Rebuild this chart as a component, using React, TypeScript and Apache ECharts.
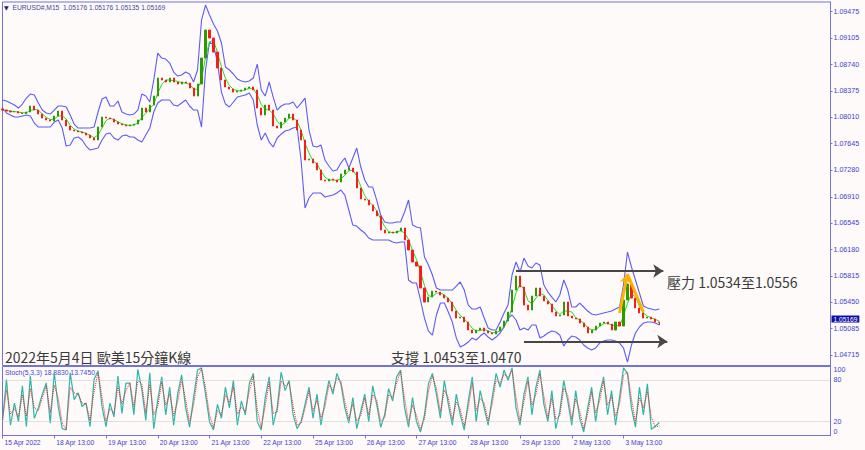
import React, { useEffect, useRef } from 'react';
import * as echarts from 'echarts';

// ---------- data ----------
const xTickLabels = [
  '15 Apr 2022', '18 Apr 13:00', '19 Apr 13:00', '20 Apr 13:00', '21 Apr 13:00',
  '22 Apr 13:00', '25 Apr 13:00', '26 Apr 13:00', '27 Apr 13:00', '28 Apr 13:00',
  '29 Apr 13:00', '2 May 13:00', '3 May 13:00',
];
const priceTicks = [
  1.09475, 1.09105, 1.0874, 1.08375, 1.0801, 1.07645, 1.0728,
  1.0691, 1.06545, 1.0618, 1.05815, 1.0545, 1.05085, 1.04715,
];
const stochTicks = [0, 20, 80, 100];

const firstOpen = 1.08125;
const lastQuote = [1.05176, 1.05176, 1.05135, 1.05169]; // O H L C of the last bar

const close = [
  1.08111, 1.08097, 1.08084, 1.08090, 1.08070, 1.08062, 1.08084, 1.08167, 1.08111, 1.08056,
  1.08000, 1.07973, 1.07959, 1.08028, 1.08097, 1.07973, 1.07890, 1.07834, 1.07821, 1.07807,
  1.07793, 1.07765, 1.07724, 1.07696, 1.07876, 1.08014, 1.08000, 1.07987, 1.07945, 1.07917,
  1.07904, 1.07890, 1.07904, 1.07917, 1.07973, 1.08139, 1.08084, 1.08180, 1.08305, 1.08554,
  1.08527, 1.08499, 1.08554, 1.08499, 1.08471, 1.08499, 1.08485, 1.08416, 1.08305, 1.08471,
  1.08831, 1.09219, 1.09108, 1.08914, 1.08693, 1.08527, 1.08430, 1.08402, 1.08360, 1.08374,
  1.08388, 1.08416, 1.08430, 1.08388, 1.08139, 1.08042, 1.08180, 1.08111, 1.07890, 1.07862,
  1.07945, 1.08000, 1.08056, 1.07973, 1.07834, 1.07696, 1.07419, 1.07433, 1.07377, 1.07281,
  1.07142, 1.07128, 1.07156, 1.07142, 1.07114, 1.07225, 1.07281, 1.07308, 1.07253, 1.07031,
  1.06879, 1.06865, 1.06796, 1.06713, 1.06644, 1.06450, 1.06408, 1.06422, 1.06408, 1.06436,
  1.06478, 1.06311, 1.06173, 1.06007, 1.05951, 1.05647, 1.05453, 1.05522, 1.05605, 1.05591,
  1.05550, 1.05508, 1.05453, 1.05328, 1.05231, 1.05245, 1.05176, 1.05065, 1.05024, 1.05065,
  1.05093, 1.05051, 1.05024, 1.05010, 1.05051, 1.05107, 1.05190, 1.05314, 1.05619, 1.05813,
  1.05661, 1.05411, 1.05342, 1.05536, 1.05647, 1.05536, 1.05467, 1.05425, 1.05314, 1.05259,
  1.05273, 1.05453, 1.05259, 1.05231, 1.05218, 1.05162, 1.05107, 1.05024, 1.05065, 1.05121,
  1.05162, 1.05176, 1.05148, 1.05065, 1.05176, 1.05121, 1.05481, 1.05702, 1.05508, 1.05370,
  1.05301, 1.05231, 1.05245, 1.05218, 1.05176, 1.05169,
];

const upperBand = [
  1.08250, 1.08236, 1.08208, 1.08180, 1.08139, 1.08194, 1.08277, 1.08333, 1.08319, 1.08208,
  1.08111, 1.08070, 1.08056, 1.08111, 1.08167, 1.08167, 1.08153, 1.08042, 1.07917, 1.07862,
  1.07862, 1.07862, 1.07862, 1.07876, 1.08084, 1.08264, 1.08291, 1.08167, 1.08167, 1.08236,
  1.08084, 1.08056, 1.08042, 1.08056, 1.08111, 1.08333, 1.08305, 1.08222, 1.08527, 1.08900,
  1.08831, 1.08817, 1.08762, 1.08637, 1.08582, 1.08596, 1.08637, 1.08610, 1.08499, 1.08665,
  1.09357, 1.09565, 1.09427, 1.09302, 1.09205, 1.09039, 1.08707, 1.08665, 1.08610, 1.08540,
  1.08513, 1.08499, 1.08513, 1.08554, 1.08748, 1.08388, 1.08305, 1.08499, 1.08291, 1.08111,
  1.08167, 1.08194, 1.08194, 1.08222, 1.08139, 1.08208, 1.08277, 1.07834, 1.07613, 1.07599,
  1.07627, 1.07419, 1.07336, 1.07267, 1.07281, 1.07377, 1.07447, 1.07308, 1.07447, 1.07585,
  1.07322, 1.07142, 1.07045, 1.07045, 1.06865, 1.06658, 1.06561, 1.06547, 1.06547, 1.06561,
  1.06561, 1.06699, 1.06865, 1.06519, 1.06491, 1.06478, 1.06076, 1.05965, 1.05827, 1.05647,
  1.05619, 1.05619, 1.05619, 1.05619, 1.05674, 1.05730, 1.05619, 1.05411, 1.05356, 1.05356,
  1.05384, 1.05231, 1.05093, 1.05065, 1.05065, 1.05176, 1.05301, 1.05411, 1.05827, 1.06007,
  1.05868, 1.06062, 1.05951, 1.05924, 1.05993, 1.05965, 1.05688, 1.05591, 1.05522, 1.05453,
  1.05550, 1.05758, 1.05619, 1.05384, 1.05384, 1.05439, 1.05384, 1.05328, 1.05287, 1.05273,
  1.05287, 1.05301, 1.05314, 1.05328, 1.05356, 1.05384, 1.05688, 1.06145, 1.05938, 1.05758,
  1.05578, 1.05398, 1.05370, 1.05356, 1.05342, 1.05356,
];

const lowerBand = [
  1.08139, 1.08070, 1.08042, 1.08014, 1.08014, 1.08028, 1.08042, 1.08028, 1.07931, 1.07876,
  1.07876, 1.07876, 1.07876, 1.07945, 1.07973, 1.07862, 1.07613, 1.07627, 1.07724, 1.07737,
  1.07696, 1.07613, 1.07557, 1.07571, 1.07585, 1.07696, 1.07779, 1.07793, 1.07724, 1.07696,
  1.07751, 1.07765, 1.07737, 1.07737, 1.07696, 1.07668, 1.07765, 1.07862, 1.08084, 1.08208,
  1.08250, 1.08250, 1.08250, 1.08180, 1.08167, 1.08208, 1.08250, 1.08167, 1.08111, 1.08111,
  1.07876, 1.08665, 1.09053, 1.09011, 1.08776, 1.08360, 1.08194, 1.08153, 1.08222, 1.08291,
  1.08305, 1.08319, 1.08347, 1.08250, 1.07904, 1.07696, 1.07793, 1.07668, 1.07599, 1.07724,
  1.07779, 1.07821, 1.07834, 1.07862, 1.07876, 1.07419, 1.06754, 1.06893, 1.06962, 1.06962,
  1.06962, 1.06907, 1.06921, 1.06934, 1.06962, 1.07004, 1.06934, 1.06727, 1.06519, 1.06505,
  1.06450, 1.06408, 1.06339, 1.06311, 1.06311, 1.06311, 1.06311, 1.06311, 1.06284, 1.06270,
  1.06284, 1.06284, 1.05758, 1.05716, 1.05716, 1.05481, 1.05231, 1.05051, 1.04996, 1.05273,
  1.05439, 1.05439, 1.05314, 1.05176, 1.04955, 1.04830, 1.04858, 1.04899, 1.04955, 1.04927,
  1.04982, 1.05024, 1.04968, 1.04927, 1.04968, 1.05024, 1.05107, 1.05231, 1.05273, 1.05204,
  1.05065, 1.05093, 1.05065, 1.05135, 1.05135, 1.04955, 1.04982, 1.05024, 1.05051, 1.05038,
  1.04996, 1.04844, 1.04927, 1.04982, 1.04968, 1.04927, 1.04858, 1.04816, 1.04788, 1.04816,
  1.04885, 1.04913, 1.04927, 1.04927, 1.04913, 1.04885, 1.04816, 1.04622, 1.04858, 1.05024,
  1.05107, 1.05162, 1.05176, 1.05176, 1.05162, 1.05135,
];

const stochK = [
  22, 81, 15, 47, 20, 72, 13, 86, 25, 40,
  60, 76, 18, 91, 42, 10, 8, 91, 52, 62,
  42, 47, 13, 81, 94, 42, 13, 47, 27, 86,
  32, 76, 76, 30, 96, 67, 22, 91, 10, 52,
  85, 30, 70, 15, 60, 88, 40, 12, 55, 95,
  98, 60, 20, 8, 45, 25, 70, 40, 80, 15,
  50, 30, 75, 90, 20, 8, 55, 85, 15, 40,
  92, 65, 80, 30, 10, 20, 45, 70, 25, 60,
  15, 50, 80, 60, 90, 75, 40, 18, 55, 10,
  35, 60, 20, 72, 45, 12, 30, 68, 50, 85,
  95, 40, 12, 55, 20, 5, 30, 75, 90, 60,
  25, 80, 45, 15, 60, 30, 8, 50, 85, 20,
  65, 40, 15, 55, 90, 70, 95, 80, 98, 40,
  15, 60, 85, 30, 70, 95, 45, 20, 65, 10,
  35, 80, 50, 15, 65, 25, 5, 40, 70, 20,
  60, 85, 30, 65, 15, 55, 98, 90, 40, 12,
  70, 30, 75, 9, 13.352, 18.883,
];

const stochD = [
  22, 66, 31, 39, 27, 59, 28, 68, 40, 36,
  55, 72, 33, 73, 54, 18, 9, 70, 62, 60,
  47, 46, 22, 64, 91, 55, 20, 39, 32, 71,
  46, 65, 76, 42, 80, 74, 33, 74, 30, 42,
  77, 44, 60, 29, 49, 81, 52, 19, 44, 85,
  97, 70, 30, 11, 36, 30, 59, 48, 70, 31,
  41, 35, 64, 86, 38, 11, 43, 77, 32, 34,
  79, 72, 76, 43, 15, 18, 39, 64, 36, 51,
  26, 41, 73, 65, 83, 79, 49, 24, 46, 21,
  29, 54, 30, 59, 52, 20, 26, 59, 55, 76,
  93, 54, 19, 44, 29, 9, 24, 64, 86, 68,
  34, 66, 54, 23, 49, 38, 14, 40, 76, 36,
  54, 47, 21, 45, 81, 75, 89, 84, 94, 55,
  21, 49, 79, 44, 60, 89, 57, 26, 54, 24,
  29, 69, 58, 24, 53, 35, 10, 31, 63, 33,
  50, 79, 44, 56, 28, 45, 87, 92, 53, 19,
  55, 40, 64, 26, 12.6, 13.745,
];

// annotation anchors: [bar index, price]
const resistanceArrow = [[129, 1.05882], [166, 1.05882]];
const supportArrow = [[131, 1.04906], [166.5, 1.04906]];
const breakoutPath = [[155, 1.05301], [157.2, 1.05841], [161.3, 1.05314]];

// ---------- layout / style ----------
const N_CATS = 209;
const LABEL_STEP = 13;
const Y_MIN = 1.04574;
const Y_MAX = 1.09607;
const BG = '#fdfaf9';
const AXIS = '#7373dc';
const TXT = '#3f3fcf';
const BAND = '#5c5cf6';
const SANS = '"Liberation Sans", Arial, sans-serif';
const CJK = '"Noto Sans CJK TC", "Noto Sans CJK SC", sans-serif';

function sma(arr: number[], n: number): number[] {
  return arr.map((_, i) => {
    const s = Math.max(0, i - n + 1);
    let t = 0;
    for (let j = s; j <= i; j++) t += arr[j];
    return t / (i - s + 1);
  });
}

export default function App() {
  const ref = useRef<HTMLDivElement>(null);

  useEffect(() => {
    if (!ref.current) return;
    const chart = echarts.init(ref.current, null, { renderer: 'svg' });

    const cats = Array.from({ length: N_CATS }, (_, i) => 'b' + i);
    const candles = close.map((c, i) => {
      if (i === close.length - 1) {
        return [lastQuote[0], lastQuote[3], lastQuote[2], lastQuote[1]];
      }
      const o = i === 0 ? firstOpen : close[i - 1];
      return [o, c, Math.min(o, c), Math.max(o, c)];
    });
    const ma = sma(close, 3);
    const lastK = stochK[stochK.length - 1];
    const lastD = stochD[stochD.length - 1];

    const showTick = (idx: number) =>
      idx % LABEL_STEP === 0 && idx / LABEL_STEP < xTickLabels.length;

    const seg = (a: number[], b: number[], arrow: boolean, size: number) => [
      { coord: a, symbol: 'none' },
      { coord: b, symbol: arrow ? 'arrow' : 'none', symbolSize: size },
    ];

    const annot = (data: any[], color: string, width: number) => ({
      type: 'line',
      xAxisIndex: 0,
      yAxisIndex: 0,
      data: [],
      silent: true,
      z: 10,
      markLine: {
        silent: true,
        animation: false,
        label: { show: false },
        lineStyle: { color, width, type: 'solid', opacity: 1 },
        emphasis: { disabled: true },
        data,
      },
    });

    const option: any = {
      animation: false,
      backgroundColor: BG,
      textStyle: { fontFamily: SANS },
      grid: [
        { left: 2.5, right: 34.5, top: 2, height: 363.5, show: true, borderColor: AXIS, borderWidth: 1, outerBoundsMode: 'none', containLabel: false },
        { left: 2.5, right: 34.5, top: 366.5, height: 69, show: true, borderColor: AXIS, borderWidth: 1, outerBoundsMode: 'none', containLabel: false },
      ],
      xAxis: [
        {
          type: 'category', gridIndex: 0, data: cats, boundaryGap: false,
          axisLine: { show: false }, axisTick: { show: false }, axisLabel: { show: false }, splitLine: { show: false },
        },
        {
          type: 'category', gridIndex: 1, data: cats, boundaryGap: false,
          axisLine: { show: true, lineStyle: { color: AXIS } },
          axisTick: { show: true, length: 3, interval: (i: number) => showTick(i), lineStyle: { color: AXIS } },
          axisLabel: {
            show: true,
            interval: (i: number) => showTick(i),
            formatter: (_v: string, i: number) => xTickLabels[i / LABEL_STEP] ?? '',
            align: 'left', margin: 3, padding: [0, 0, 0, 2],
            fontSize: 6.7, color: TXT, hideOverlap: false,
          },
          splitLine: { show: false },
        },
      ],
      yAxis: [
        {
          type: 'value', gridIndex: 0, position: 'right', min: Y_MIN, max: Y_MAX,
          splitLine: { show: false },
          axisLine: { show: true, lineStyle: { color: AXIS } },
          axisTick: { show: true, length: 2, customValues: priceTicks, lineStyle: { color: AXIS } },
          axisLabel: {
            customValues: priceTicks, formatter: (v: number) => v.toFixed(5),
            fontSize: 7.1, color: TXT, margin: 3, showMinLabel: true, showMaxLabel: true,
          },
        },
        {
          type: 'value', gridIndex: 1, position: 'right', min: 0, max: 100,
          splitLine: { show: false },
          axisLine: { show: true, lineStyle: { color: AXIS } },
          axisTick: { show: false },
          axisLabel: {
            customValues: stochTicks, fontSize: 7.1, color: TXT, margin: 3,
            verticalAlignMaxLabel: 'top', verticalAlignMinLabel: 'bottom',
            showMinLabel: true, showMaxLabel: true,
          },
        },
        {
          // current-price tag on the price scale
          type: 'value', gridIndex: 0, position: 'right', min: Y_MIN, max: Y_MAX,
          splitLine: { show: false }, axisLine: { show: false }, axisTick: { show: false },
          axisLabel: {
            customValues: [lastQuote[3]], formatter: (v: number) => v.toFixed(5),
            fontSize: 6.6, color: '#ffffff', backgroundColor: '#0c0ca8',
            padding: [0, 2, 0, 2], margin: 1, verticalAlign: 'bottom',
            showMinLabel: true, showMaxLabel: true,
          },
        },
      ],
      series: [
        {
          name: 'upper', type: 'line', xAxisIndex: 0, yAxisIndex: 0, data: upperBand,
          symbol: 'none', silent: true, z: 2, lineStyle: { color: BAND, width: 1.1 },
        },
        {
          name: 'lower', type: 'line', xAxisIndex: 0, yAxisIndex: 0, data: lowerBand,
          symbol: 'none', silent: true, z: 2, lineStyle: { color: BAND, width: 1.1 },
        },
        {
          name: 'ma', type: 'line', xAxisIndex: 0, yAxisIndex: 0, data: ma,
          symbol: 'none', silent: true, z: 3, lineStyle: { color: '#1ee01e', width: 1 },
        },
        {
          name: 'EURUSD', type: 'candlestick', xAxisIndex: 0, yAxisIndex: 0, data: candles,
          barWidth: 1.6, silent: true, z: 4,
          itemStyle: { color: '#2f9a00', color0: '#ff1a1a', borderColor: '#2f9a00', borderColor0: '#ff1a1a', borderWidth: 1 },
        },
        annot([seg(resistanceArrow[0], resistanceArrow[1], true, 10)], '#474747', 2.2),
        annot([seg(supportArrow[0], supportArrow[1], true, 10)], '#474747', 2.2),
        annot([
          seg(breakoutPath[0], breakoutPath[1], true, 9),
          seg(breakoutPath[1], breakoutPath[2], false, 0),
        ], '#ffb300', 3),
        {
          name: 'K', type: 'line', xAxisIndex: 1, yAxisIndex: 1, data: stochK,
          symbol: 'none', silent: true, z: 3, lineStyle: { color: '#2bb7aa', width: 1.2 },
          markLine: {
            silent: true, animation: false, symbol: ['none', 'none'],
            label: { show: false },
            lineStyle: { color: '#c4c4c4', type: 'dotted', width: 1 },
            data: [{ yAxis: 20 }, { yAxis: 80 }],
          },
        },
        {
          name: 'D', type: 'line', xAxisIndex: 1, yAxisIndex: 1, data: stochD,
          symbol: 'none', silent: true, z: 4, lineStyle: { color: '#ff2020', width: 1, type: 'dotted' },
        },
      ],
      graphic: [
        {
          type: 'text', x: 4, y: 7.5, silent: true,
          style: { text: '▼', fill: '#1c1c7a', fontSize: 6, fontFamily: '"DejaVu Sans"', verticalAlign: 'middle' },
        },
        {
          type: 'text', x: 12.5, y: 7.5, silent: true,
          style: {
            text: 'EURUSD#,M15  ' + lastQuote.map((v) => v.toFixed(5)).join(' '),
            fill: '#46469e', fontSize: 6.7, fontFamily: SANS, verticalAlign: 'middle',
          },
        },
        {
          type: 'text', x: 5, y: 372.7, silent: true,
          style: {
            text: `Stoch(5,3,3) ${lastK.toFixed(4)} ${lastD.toFixed(4)}`,
            fill: '#4a4ad2', fontSize: 6.8, fontFamily: SANS, verticalAlign: 'middle',
          },
        },
        {
          type: 'text', x: 5, y: 356.5, silent: true,
          style: { text: '2022年5月4日 歐美15分鐘K線', fill: '#3a3a3a', fontSize: 14, fontFamily: CJK, verticalAlign: 'middle' },
        },
        {
          type: 'text', x: 391, y: 356.5, silent: true,
          style: { text: '支撐 1.0453至1.0470', fill: '#3a3a3a', fontSize: 14, fontFamily: CJK, verticalAlign: 'middle' },
        },
        {
          type: 'text', x: 667, y: 282, silent: true,
          style: { text: '壓力 1.0534至1.0556', fill: '#3a3a3a', fontSize: 14, fontFamily: CJK, verticalAlign: 'middle' },
        },
      ],
    };

    chart.setOption(option);
    return () => chart.dispose();
  }, []);

  return (
    <div
      ref={ref}
      style={{ position: 'fixed', left: 0, top: 0, width: 865, height: 450, background: BG }}
    />
  );
}
